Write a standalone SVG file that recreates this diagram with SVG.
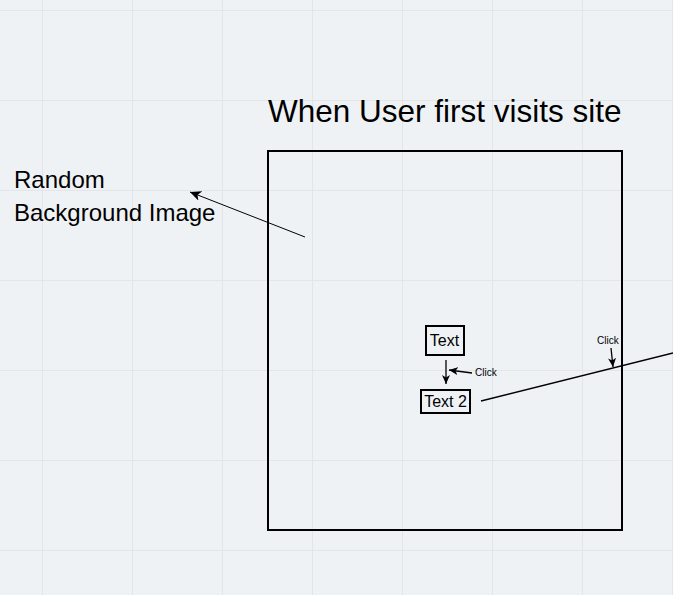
<svg xmlns="http://www.w3.org/2000/svg" width="673" height="595" viewBox="0 0 673 595">
<style>
.grid line{stroke:#e2e6ea;stroke-width:1}
.t{font-family:"Liberation Sans",Arial,sans-serif;fill:#000}
.box{fill:none;stroke:#000;stroke-width:2}
.conn{stroke:#000;fill:none}
</style>
<defs>
<marker id="ah" markerUnits="userSpaceOnUse" markerWidth="12" markerHeight="10" viewBox="0 0 12 10" refX="11" refY="5" orient="auto">
<path d="M0,0 L11,5 L0,10 L3,5 z" fill="#000"/>
</marker>
<marker id="ahs" markerUnits="userSpaceOnUse" markerWidth="10" markerHeight="8" viewBox="0 0 10 8" refX="9" refY="4" orient="auto">
<path d="M0,0 L9,4 L0,8 L2.5,4 z" fill="#000"/>
</marker>
</defs>
<rect width="673" height="595" fill="#eff2f5"/>
<g class="grid">
<line x1="42.5" y1="0" x2="42.5" y2="595"/>
<line x1="132.5" y1="0" x2="132.5" y2="595"/>
<line x1="222.5" y1="0" x2="222.5" y2="595"/>
<line x1="312.5" y1="0" x2="312.5" y2="595"/>
<line x1="402.5" y1="0" x2="402.5" y2="595"/>
<line x1="492.5" y1="0" x2="492.5" y2="595"/>
<line x1="582.5" y1="0" x2="582.5" y2="595"/>
<line x1="672.5" y1="0" x2="672.5" y2="595"/>
<line x1="0" y1="10.5" x2="673" y2="10.5"/>
<line x1="0" y1="100.5" x2="673" y2="100.5"/>
<line x1="0" y1="190.5" x2="673" y2="190.5"/>
<line x1="0" y1="280.5" x2="673" y2="280.5"/>
<line x1="0" y1="370.5" x2="673" y2="370.5"/>
<line x1="0" y1="460.5" x2="673" y2="460.5"/>
<line x1="0" y1="550.5" x2="673" y2="550.5"/>
</g>
<g id="title"><text class="t" x="268" y="122" font-size="31.5">When User first visits site</text></g>
<g id="screen"><rect class="box" x="268" y="151" width="354" height="379"/></g>
<g id="random-label"><text class="t" x="14" y="188" font-size="24">Random</text><text class="t" x="14" y="221" font-size="24">Background Image</text></g>
<g id="text1"><rect class="box" x="426" y="326" width="38" height="29"/><text class="t" x="444.5" y="346" font-size="16" text-anchor="middle">Text</text></g>
<g id="text2"><rect class="box" x="421" y="390" width="49" height="23"/><text class="t" x="445.5" y="407" font-size="16" text-anchor="middle">Text 2</text></g>
<g id="click1"><text class="t" x="475" y="376" font-size="10">Click</text></g>
<g id="click2"><text class="t" x="597" y="344" font-size="10">Click</text></g>
<g id="connectors">
<line class="conn" x1="305" y1="237" x2="190" y2="192" marker-end="url(#ah)"/>
<line class="conn" x1="446" y1="360" x2="446" y2="384" stroke-width="1.3" marker-end="url(#ahs)"/>
<line class="conn" x1="472" y1="373" x2="449" y2="370" stroke-width="1.3" marker-end="url(#ahs)"/>
<line class="conn" x1="481" y1="401" x2="673" y2="353" stroke-width="1.3"/>
<line class="conn" x1="611" y1="348" x2="613" y2="367" stroke-width="1.3" marker-end="url(#ahs)"/>
</g>
</svg>
